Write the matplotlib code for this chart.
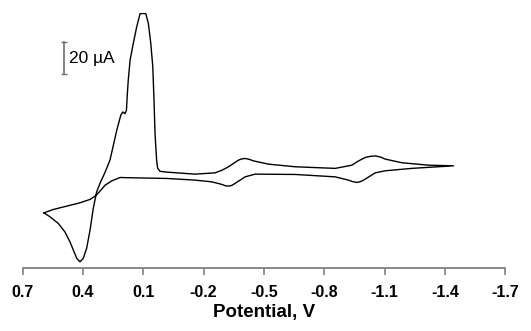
import numpy as np
import matplotlib
matplotlib.use("Agg")
import matplotlib.pyplot as plt

plt.rcParams['font.family'] = ['Liberation Sans', 'DejaVu Sans']

# cyclic voltammogram
# forward scan: 0.6 V -> -1.44 V (lower trace)
fwd_E = [0.594, 0.548, 0.481, 0.415, 0.365, 0.340, 0.319, 0.290, 0.257, 0.216,
         0.151, -0.018, -0.157, -0.240, -0.290, -0.306, -0.323, -0.339, -0.356,
         -0.381, -0.406, -0.456, -0.655, -0.854, -0.920, -0.941, -0.962, -0.979,
         -0.995, -1.053, -1.103, -1.235, -1.442]
fwd_I = [-21.7, -19.6, -17.5, -15.4, -13.3, -11.25, -8.6, -4.4, -1.7, 0.4,
         0.2, -0.2, -1.25, -2.3, -3.9, -4.7, -5.0, -4.6, -3.3,
         -1.25, 0.8, 2.5, 2.3, 0.8, -1.25, -2.2, -2.7, -2.2,
         -1.25, 3.3, 4.6, 6.1, 7.7]

# reverse scan: -1.44 V -> 0.6 V (upper trace with the big peak)
rev_E = [-1.442, -1.318, -1.186, -1.103, -1.078, -1.053, -1.028, -1.003, -0.968,
         -0.937, -0.854, -0.655, -0.522, -0.447, -0.428, -0.406, -0.389, -0.373,
         -0.323, -0.292, -0.257, -0.157, -0.018, 0.017, 0.029, 0.034, 0.042,
         0.047, 0.053, 0.063, 0.075, 0.088, 0.116, 0.133, 0.150, 0.166, 0.175,
         0.180, 0.184, 0.191, 0.202, 0.212, 0.232, 0.266, 0.290, 0.315, 0.332,
         0.349, 0.365, 0.382, 0.399, 0.415, 0.431, 0.448, 0.465, 0.490, 0.523,
         0.564, 0.594]
rev_I = [7.7, 8.1, 9.6, 11.9, 13.25, 13.9, 13.6, 12.9, 10.6,
         8.1, 6.1, 7.1, 8.75, 10.8, 11.7, 12.3, 12.0, 11.25,
         7.1, 5.0, 3.3, 2.5, 3.75, 4.25, 6.25, 11.25, 28.1,
         48.75, 69.6, 84.2, 96.7, 102.9, 102.9, 94.6, 84.2, 73.75, 61.25,
         51.9, 42.5, 40.3, 41.4, 39.4, 30.0, 11.25, 3.75, -3.1, -8.5,
         -18.9, -32.5, -43.9, -50.2, -52.3, -50.2, -45.0, -39.8, -33.6, -28.3,
         -24.2, -21.7]

xticks = [0.7, 0.4, 0.1, -0.2, -0.5, -0.8, -1.1, -1.4, -1.7]

fig = plt.figure(figsize=(5.31, 3.31), dpi=100)
ax = fig.add_axes([0.0427, 0.190, 0.909, 0.772])

E = fwd_E + rev_E
I = fwd_I + rev_I
ax.plot(E, I, color='black', linewidth=1.0, solid_joinstyle='round')

# 20 uA scale bar
ax.plot([0.4945, 0.4945], [64.8, 84.8], color='#707070', linewidth=1.2)
ax.plot([0.4945, 0.4945], [64.8, 84.8], linestyle='none', marker='_',
        markersize=4, markeredgewidth=1.0, color='#707070')
ax.text(0.468, 74.5, '20 \u00b5A', fontsize=12.5, va='center', ha='left')

ax.set_xlim(0.7, -1.7)
ax.set_ylim(-56.25, 103.5)
ax.set_xticks(xticks)
ax.set_xticklabels([f'{t:.1f}' for t in xticks], fontweight='bold', fontsize=11.5)
ax.set_yticks([])
for s in ['left', 'right', 'top']:
    ax.spines[s].set_visible(False)
ax.spines['bottom'].set_color('#808080')
ax.spines['bottom'].set_linewidth(1.3)
ax.tick_params(axis='x', direction='out', length=5, width=1.2, color='#808080', pad=7)
ax.set_xlabel('Potential, V', fontweight='bold', fontsize=13.5, labelpad=3)

fig.savefig('out.png', dpi=100)
